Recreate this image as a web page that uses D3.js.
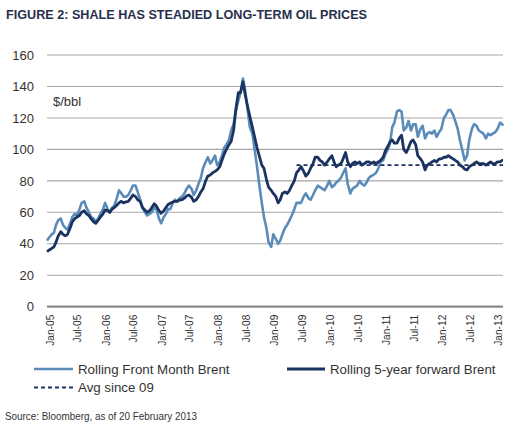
<!DOCTYPE html>
<html><head><meta charset="utf-8">
<script src="https://cdn.jsdelivr.net/npm/d3@7"></script>
<style>body{margin:0;background:#fff}svg{display:block}</style>
</head><body>
<svg id="c" width="511" height="444"></svg>
<script>
// ---- data (semi-monthly readings, USD/bbl) ----
const dates = [
"2005-01-01","2005-01-15","2005-02-01","2005-02-15","2005-03-01","2005-03-15","2005-04-01","2005-04-15","2005-05-01","2005-05-15","2005-06-01","2005-06-15","2005-07-01","2005-07-15","2005-08-01","2005-08-15","2005-09-01","2005-09-15","2005-10-01","2005-10-15","2005-11-01","2005-11-15","2005-12-01","2005-12-15",
"2006-01-01","2006-01-15","2006-02-01","2006-02-15","2006-03-01","2006-03-15","2006-04-01","2006-04-15","2006-05-01","2006-05-15","2006-06-01","2006-06-15","2006-07-01","2006-07-15","2006-08-01","2006-08-15","2006-09-01","2006-09-15","2006-10-01","2006-10-15","2006-11-01","2006-11-15","2006-12-01","2006-12-15",
"2007-01-01","2007-01-15","2007-02-01","2007-02-15","2007-03-01","2007-03-15","2007-04-01","2007-04-15","2007-05-01","2007-05-15","2007-06-01","2007-06-15","2007-07-01","2007-07-15","2007-08-01","2007-08-15","2007-09-01","2007-09-15","2007-10-01","2007-10-15","2007-11-01","2007-11-15","2007-12-01","2007-12-15",
"2008-01-01","2008-01-15","2008-02-01","2008-02-15","2008-03-01","2008-03-15","2008-04-01","2008-04-15","2008-05-01","2008-05-15","2008-06-01","2008-06-15","2008-07-01","2008-07-15","2008-08-01","2008-08-15","2008-09-01","2008-09-15","2008-10-01","2008-10-15","2008-11-01","2008-11-15","2008-12-01","2008-12-15",
"2009-01-01","2009-01-15","2009-02-01","2009-02-15","2009-03-01","2009-03-15","2009-04-01","2009-04-15","2009-05-01","2009-05-15","2009-06-01","2009-06-15","2009-07-01","2009-07-15","2009-08-01","2009-08-15","2009-09-01","2009-09-15","2009-10-01","2009-10-15","2009-11-01","2009-11-15","2009-12-01","2009-12-15",
"2010-01-01","2010-01-15","2010-02-01","2010-02-15","2010-03-01","2010-03-15","2010-04-01","2010-04-15","2010-05-01","2010-05-15","2010-06-01","2010-06-15","2010-07-01","2010-07-15","2010-08-01","2010-08-15","2010-09-01","2010-09-15","2010-10-01","2010-10-15","2010-11-01","2010-11-15","2010-12-01","2010-12-15",
"2011-01-01","2011-01-15","2011-02-01","2011-02-15","2011-03-01","2011-03-15","2011-04-01","2011-04-15","2011-05-01","2011-05-15","2011-06-01","2011-06-15","2011-07-01","2011-07-15","2011-08-01","2011-08-15","2011-09-01","2011-09-15","2011-10-01","2011-10-15","2011-11-01","2011-11-15","2011-12-01","2011-12-15",
"2012-01-01","2012-01-15","2012-02-01","2012-02-15","2012-03-01","2012-03-15","2012-04-01","2012-04-15","2012-05-01","2012-05-15","2012-06-01","2012-06-15","2012-07-01","2012-07-15","2012-08-01","2012-08-15","2012-09-01","2012-09-15","2012-10-01","2012-10-15","2012-11-01","2012-11-15","2012-12-01","2012-12-15",
"2013-01-01","2013-01-15","2013-02-01","2013-02-15","2013-02-20"];

const frontMonth = [
42,44,46,47,52,55,56,52,50,49,53,57,59,58,62,66,67,63,60,57,56,54,56,59,
62,66,62,60,63,64,69,74,72,70,70,71,74,77,77,73,68,63,60,58,59,60,63,62,
56,53,57,59,62,62,66,68,67,69,70,72,75,77,75,71,74,78,82,88,92,95,91,93,
96,90,92,96,101,103,106,112,116,124,131,136,145,138,125,114,110,100,89,78,66,57,50,41,
38,46,43,40,42,46,50,52,55,58,62,66,66,66,70,72,69,68,71,74,77,76,75,74,
77,80,76,77,79,80,82,85,88,78,72,75,76,77,80,78,77,79,82,83,84,85,88,92,
93,97,100,104,114,117,124,125,124,112,114,118,112,116,116,108,113,115,107,110,111,110,112,108,
111,113,120,122,125,125,122,118,113,106,99,93,96,106,113,116,115,112,111,110,107,110,109,110,
111,113,117,116,115];

const forward5y = [
35,36,37,38,41,45,47.7,46,45,46,50,54,56,57,58,60,61,59,58,56,54,53,55,57,
59,61.5,61,60,62,63,64.5,66,67,66,66.7,67,69,71,70,68,66.7,63,61.5,60,61,63,65.5,64,
61,59.4,61,63,65,65.7,66.5,67,67,67.8,68,69,70.5,71,69.5,67,68,70,73,75,80,83,83.7,85,
86,87,89,93,97,100,103,105,112,125,136,136,143,135,127,121,114,108,101,96,90,88,81,76,
74,72,70,66,68,72,73,72,74,77,80,85,87,89,86,83,85,88,91,95,95,93,92,90,
92,94,96,92,89,90,91,94,98,92,89,91,92,91,92,90,91,92,92,91,92,91,92,93,
95,99,102,105,106,104,104,107,109,100,98,101,105,106,103,96,94,92,87,90,91,92,93,92,
94,94,95,95,96,95,94,93,92,90,89,87.5,87,89,90,91,92,91,91,91,90,91,92,91,
91,92,92,93,93];

const avgStart = "2009-06-15", avgEnd = "2013-02-20", avgValue = 90;

const yTicks = [0,20,40,60,80,100,120,140,160];
const xTickDates = ["2005-01-01","2005-07-01","2006-01-01","2006-07-01","2007-01-01","2007-07-01","2008-01-01","2008-07-01","2009-01-01","2009-07-01","2010-01-01","2010-07-01","2011-01-01","2011-07-01","2012-01-01","2012-07-01","2013-01-01"];
const seriesNames = ["Rolling Front Month Brent","Rolling 5-year forward Brent","Avg since 09"];

// ---- drawing ----
const parse = d3.timeParse("%Y-%m-%d");
const fmt = d3.timeFormat("%b-%y");
const svg = d3.select("#c");
const L = 47, R = 503, T = 55, B = 306.7;
const x = d3.scaleTime().domain([parse("2005-01-01"), parse("2013-02-20")]).range([L, R]);
const y = d3.scaleLinear().domain([0,160]).range([B, T]);

svg.append("text").attr("x",6).attr("y",19).text("FIGURE 2: SHALE HAS STEADIED LONG-TERM OIL PRICES")
  .attr("font-family","Liberation Sans, Arial, sans-serif").attr("font-weight","bold").attr("font-size",12)
  .attr("textLength",361).attr("lengthAdjust","spacingAndGlyphs").attr("fill","#27304d");

// gridlines
svg.append("g").selectAll("line").data(yTicks).join("line")
  .attr("x1",L).attr("x2",R).attr("y1",d=>y(d)).attr("y2",d=>y(d))
  .attr("stroke", d=> d===0 ? "#8a8a8a" : "#a6a6a6").attr("stroke-width", d=> d===0 ? 2.2 : 1.1);

// y axis labels
const yAxis = d3.axisLeft(y).tickValues(yTicks).tickSize(0).tickPadding(0);
const gy = svg.append("g").attr("transform",`translate(34,0)`).call(yAxis);
gy.select(".domain").remove();
gy.selectAll("text").attr("font-family","Liberation Sans, Arial, sans-serif").attr("font-size",13).attr("fill","#333");

// x axis labels
const gx = svg.append("g").attr("transform",`translate(0,${B})`)
  .call(d3.axisBottom(x).tickValues(xTickDates.map(parse)).tickFormat(fmt).tickSize(0));
gx.select(".domain").remove();
gx.selectAll("text").attr("font-family","Liberation Sans, Arial, sans-serif").attr("font-size",10.2).attr("fill","#333")
  .attr("text-anchor","end").attr("transform","translate(3,8) rotate(-90)").attr("dy","0.35em").attr("x",0).attr("y",0)
  .each(function(){ const p = d3.select(this.parentNode); });
gx.selectAll(".tick text").attr("transform","translate(2.5,8) rotate(-90)");

svg.append("text").attr("x",53).attr("y",106).text("$/bbl")
  .attr("font-family","Liberation Sans, Arial, sans-serif").attr("font-size",13).attr("fill","#333");

// lines
const frontData = dates.map((d,i)=>({date:parse(d), v:frontMonth[i]}));
const fwdData = dates.map((d,i)=>({date:parse(d), v:forward5y[i]}));
const line = d3.line().x(d=>x(d.date)).y(d=>y(d.v));
const cLight = "#5b8bb9", cDark = "#1b3360";
svg.append("path").datum(frontData).attr("d",line).attr("fill","none").attr("stroke",cLight).attr("stroke-width",2.6).attr("stroke-linejoin","round");
svg.append("path").datum(fwdData).attr("d",line).attr("fill","none").attr("stroke",cDark).attr("stroke-width",2.8).attr("stroke-linejoin","round");
svg.append("line").attr("x1",x(parse(avgStart))).attr("x2",x(parse(avgEnd))).attr("y1",y(avgValue)).attr("y2",y(avgValue))
  .attr("stroke",cDark).attr("stroke-width",1.6).attr("stroke-dasharray","4,3");

// legend
const lf = "Liberation Sans, Arial, sans-serif";
const leg = [
  {x1:34,x2:73,y:369,tx:78,ty:373.5,c:cLight,dash:null,w:2.6,name:seriesNames[0]},
  {x1:287,x2:325,y:369,tx:330,ty:373.5,c:cDark,dash:null,w:2.8,name:seriesNames[1]},
  {x1:34,x2:73,y:387.5,tx:78,ty:392,c:cDark,dash:"4,3",w:2,name:seriesNames[2]}
];
const lg = svg.append("g");
leg.forEach(l=>{
  lg.append("line").attr("x1",l.x1).attr("x2",l.x2).attr("y1",l.y).attr("y2",l.y).attr("stroke",l.c).attr("stroke-width",l.w).attr("stroke-dasharray",l.dash);
  lg.append("text").attr("x",l.tx).attr("y",l.ty).text(l.name).attr("font-family",lf).attr("font-size",13.3).attr("fill","#333");
});

svg.append("text").attr("x",5).attr("y",420).text("Source: Bloomberg, as of 20 February 2013")
  .attr("font-family","Liberation Sans Narrow, Liberation Sans, Arial, sans-serif").attr("font-size",11)
  .attr("textLength",192).attr("lengthAdjust","spacingAndGlyphs").attr("fill","#333");
</script>
</body></html>
